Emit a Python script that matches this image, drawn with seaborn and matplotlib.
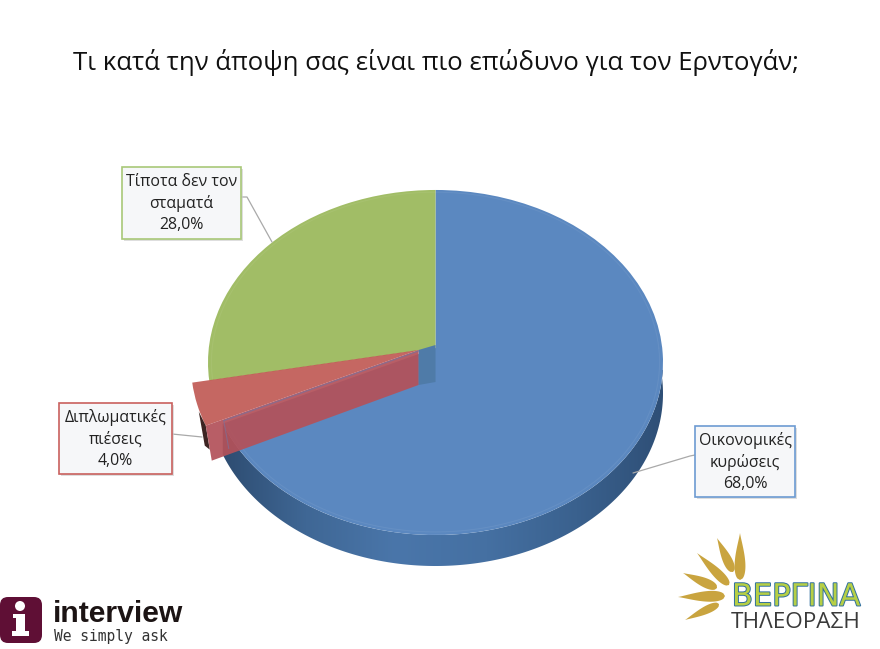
import numpy as np
import seaborn as sns
import matplotlib
matplotlib.use("Agg")
import matplotlib.pyplot as plt
import matplotlib.patheffects as pe
from matplotlib.colors import LinearSegmentedColormap
from matplotlib.patches import FancyBboxPatch, Polygon, Circle, Rectangle
from matplotlib.path import Path
from matplotlib.transforms import Transform

# ---- data ----
title = "Τι κατά την άποψη σας είναι πιο επώδυνο για τον Ερντογάν;"
categories = ["Οικονομικές\nκυρώσεις", "Διπλωματικές\nπιέσεις", "Τίποτα δεν τον\nσταματά"]
values = [68.0, 4.0, 28.0]
slice_colors = ["#5b88c0", "#bd524c", "#a1bd66"]

sns.set_theme(style="white")
FONT = ["Open Sans", "DejaVu Sans"]
plt.rcParams["font.family"] = FONT

fig = plt.figure(figsize=(8.8, 6.49), dpi=100, facecolor="white")
ax = fig.add_axes([0, 0, 1, 1])

# ---- perspective projection of the unit pie onto the page ----
CX, CY, A, B, K = 435.5, 348.0, 171.3, 226.7, 0.084


def project(x, v, dx=0.0, dy=0.0):
    d = 1 + K * v
    return CX + dx + B * x / d, CY + dy - A * v / d


class Persp(Transform):
    input_dims = output_dims = 2
    is_separable = False
    has_inverse = False

    def __init__(self, dx=0.0, dy=0.0):
        super().__init__()
        self.dx, self.dy = dx, dy

    def transform_non_affine(self, xy):
        xy = np.asarray(xy)
        return np.column_stack(project(xy[:, 0], xy[:, 1], self.dx, self.dy))

    def transform_path_non_affine(self, path):
        return Path(self.transform_non_affine(path.vertices), path.codes)


EXPLODE = (-17.0, 2.0)
DEPTH_BLUE = 31.0
DEPTH_RED = 35.0

wedges, _ = ax.pie(values, colors=slice_colors, startangle=90, counterclock=False,
                   radius=1, frame=False)
ax.set_aspect("auto")
blue_w, red_w, green_w = wedges

end_blue = 90 - 360 * values[0] / 100

for w, z in zip(wedges, (3, 6, 3)):
    w.set_zorder(z)
    w.set_linewidth(0)
blue_w.set_transform(Persp() + ax.transData)
green_w.set_transform(Persp() + ax.transData)
red_w.set_transform(Persp(*EXPLODE) + ax.transData)
red_w.set_alpha(0.88)

# faint bevel rim on the top face
th = np.radians(np.linspace(0, 360, 361))
rx, ry = project(0.985 * np.cos(th), 0.985 * np.sin(th))
ax.plot(rx, ry, color="white", lw=0.8, alpha=0.06, zorder=4)

# extruded side of the blue slice, shaded across its width
th = np.radians(np.linspace(10, end_blue, 200))
tx, ty = project(np.cos(th), np.sin(th))
bx, by = project(np.cos(th), np.sin(th), 0, DEPTH_BLUE)
side = Polygon(np.column_stack([np.r_[tx, bx[::-1]], np.r_[ty, by[::-1]]]),
               closed=True, fc="none", ec="none", zorder=1)
ax.add_patch(side)
side_cmap = LinearSegmentedColormap.from_list(
    "side", ["#2c4a6e", "#3f6795", "#4a76aa", "#4570a2", "#3a618e", "#2e4e75"])
im = ax.imshow(np.linspace(0, 1, 256)[None, :], extent=(215, 668, 580, 370),
               cmap=side_cmap, aspect="auto", zorder=2)
im.set_clip_path(side)

# inner cut face of blue seen under the red slice
ax0x, ax0y = project(0.0, 0.0)
cut = Polygon([(ax0x, ax0y - 3), (ax0x + EXPLODE[0], ax0y + EXPLODE[1]),
               (ax0x + EXPLODE[0], ax0y + EXPLODE[1] + DEPTH_RED),
               (ax0x, ax0y + DEPTH_RED - 1)],
              closed=True, fc="#4f7ba8", ec="none", zorder=4)
ax.add_patch(cut)

# front face of the red slice
a = np.radians(end_blue)
px, py = project(np.cos(a), np.sin(a), *EXPLODE)
front = Polygon([(ax0x + EXPLODE[0], ax0y + EXPLODE[1]), (px, py), (px + 6, py + DEPTH_RED),
                 (ax0x + EXPLODE[0], ax0y + EXPLODE[1] + DEPTH_RED)],
                closed=True, fc="#b3525a", ec="none", alpha=0.93, zorder=7)
ax.add_patch(front)
ax.plot([ax0x + EXPLODE[0], px + 18], [ax0y + EXPLODE[1] + 1, py - 5],
        color="#7f6f96", lw=0.9, alpha=0.8, zorder=8)
ax.plot([px + 18, px + 23], [py - 5, py + 23], color="#7f6f96", lw=0.8, alpha=0.7, zorder=8)
ax.add_patch(Polygon([(px - 7, py - 14), (px, py), (px + 4, py + 24), (px - 1, py + 20)],
                     closed=True, fc="#3d2422", ec="none", zorder=6))

# ---- callouts ----
boxes = [(695, 426, 100, 71), (59, 403, 113, 71), (122, 167, 119, 72)]
leaders = [([695, 690, 633], [455, 456, 473]),
           ([172, 202], [434, 437]),
           ([241, 247, 272], [197, 197, 242])]
box_edges = ["#6d9bd2", "#c9605e", "#a8c878"]
for cat, val, (x, y, w, h), (lx, ly), ec in zip(categories, values, boxes, leaders, box_edges):
    ax.plot(lx, ly, color="#a9a9a9", lw=0.9, zorder=9)
    ax.add_patch(Rectangle((x + 2, y + 2), w, h, fc="#c9c9c9", ec="none", alpha=0.6, zorder=9))
    ax.add_patch(Rectangle((x, y), w, h, fc="#f6f7f9", ec=ec, lw=1.2, zorder=10))
    ax.text(x + w / 2, y + h / 2 + 0.5, f"{cat}\n{val:.1f}".replace(".", ",") + "%",
            ha="center", va="center", fontsize=11.4, color="#222222",
            linespacing=1.42, zorder=11)

ax.text(435.5, 62, title, ha="center", va="center", fontsize=18.5, color="#111111", zorder=11)

# ---- "interview" logo ----
MAROON = "#5f0f35"
ax.add_patch(FancyBboxPatch((0, 597), 42, 46, boxstyle="round,pad=0,rounding_size=8", fc=MAROON,
                            ec="none", zorder=5))
ax.add_patch(Circle((20, 606), 5, fc="white", ec="none", zorder=6))
ax.add_patch(Rectangle((13, 614), 12, 4, fc="white", ec="none", zorder=6))
ax.add_patch(Rectangle((16, 614), 9, 20, fc="white", ec="none", zorder=6))
ax.add_patch(Rectangle((12, 631), 17, 5, fc="white", ec="none", zorder=6))
ax.text(53, 622, "interview", family=["Liberation Sans", "DejaVu Sans"], weight="bold",
        fontsize=21.7, color="#1c1414", ha="left", va="baseline", zorder=6)
ax.text(54, 637, "We simply ask", family=["DejaVu Sans Mono"], fontsize=10.5,
        color="#333333", ha="left", va="center", zorder=6)

# ---- "Vergina" logo ----
rays = [((740, 533), (740, 580), 8), ((717, 538), (733, 572), 7), ((697, 553), (729, 585), 7),
        ((683, 573), (717, 588), 7), ((678, 597), (725, 596), 8), ((685, 620), (719, 604), 6)]
for (x0, y0), (x1, y1), hw in rays:
    t = np.linspace(0, 1, 30)
    prof = hw * np.sqrt(np.clip(1 - t, 0, 1)) * t ** 1.2 * 1.9
    dx, dy = x1 - x0, y1 - y0
    n = np.hypot(dx, dy)
    nx, ny = -dy / n, dx / n
    cx_, cy_ = x0 + dx * t, y0 + dy * t
    ax.fill(np.r_[cx_ + nx * prof, (cx_ - nx * prof)[::-1]],
            np.r_[cy_ + ny * prof, (cy_ - ny * prof)[::-1]],
            color="#c9a43f", ec="none", zorder=5)
ax.text(796, 597, "ΒΕΡΓΙΝΑ", ha="center", va="center", fontsize=22, color="#b6cf45",
        family=["DejaVu Sans"], zorder=6,
        path_effects=[pe.withStroke(linewidth=1.4, foreground="#2f6f9f")])
ax.text(796, 622, "ΤΗΛΕΟΡΑΣΗ", ha="center", va="center", fontsize=16.2, color="#3a3a3a",
        family=["Open Sans", "DejaVu Sans"], zorder=6)

ax.set_xlim(0, 880)
ax.set_ylim(649, 0)
ax.axis("off")
fig.savefig("out.png", dpi=100)
